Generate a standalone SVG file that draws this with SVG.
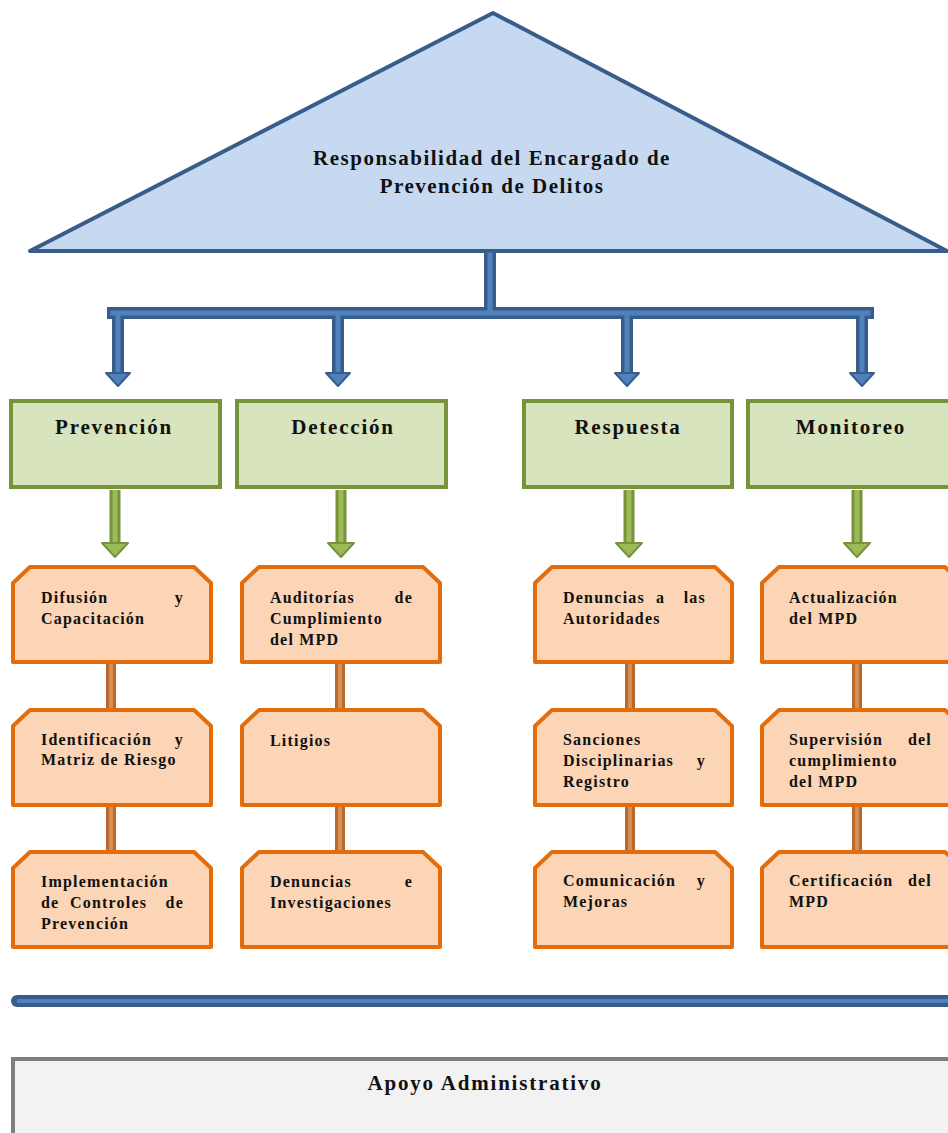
<svg xmlns="http://www.w3.org/2000/svg" width="948" height="1133" viewBox="0 0 948 1133">
<style>
.t{font-family:"Liberation Serif","Times New Roman",serif;font-weight:bold;fill:#111}
.title{font-size:21px;letter-spacing:1.5px}
.hdr{font-size:21px;letter-spacing:1.8px}
.it{font-size:16px;letter-spacing:1.2px}
.e{text-anchor:end}
.grn{fill:#d7e4bd;stroke:#77933c;stroke-width:4}
.org{fill:#fbd5b5;stroke:#e46c0a;stroke-width:4;stroke-linejoin:round}
.bo{stroke:#385d8a;stroke-width:12;fill:none;stroke-linecap:square}
.bi{stroke:#4f81bd;stroke-width:5;fill:none;stroke-linecap:square}
.bh{fill:#4f81bd;stroke:#385d8a;stroke-width:2;stroke-linejoin:round}
.go{stroke:#77933c;stroke-width:11;fill:none}
.gi{stroke:#9bbb59;stroke-width:5;fill:none}
.gh{fill:#9bbb59;stroke:#77933c;stroke-width:2;stroke-linejoin:round}
.ro{stroke:#b8692e;stroke-width:10;fill:none}
.ri{stroke:#d88f55;stroke-width:4;fill:none}
</style>
<rect width="948" height="1133" fill="#fff"/>
<g id="top">
<polygon points="493,13 30,251 947,251" fill="#c6d9f1" stroke="#385d8a" stroke-width="4" stroke-linejoin="round"/>
<text class="t title" x="492" y="165" text-anchor="middle">Responsabilidad del Encargado de</text>
<text class="t title" x="492" y="193" text-anchor="middle">Prevención de Delitos</text>
</g>
<g id="connectors">
<path class="bo" d="M490,255 V313 M113,313 H868 M118,313 V372 M338,313 V372 M627,313 V372 M862,313 V372"/>
<path class="bi" d="M490,255 V313 M113,313 H868 M118,313 V372 M338,313 V372 M627,313 V372 M862,313 V372"/>
<polygon class="bh" points="106,373 130,373 118,386"/>
<polygon class="bh" points="326,373 350,373 338,386"/>
<polygon class="bh" points="615,373 639,373 627,386"/>
<polygon class="bh" points="850,373 874,373 862,386"/>
<path class="go" d="M115,490 V544 M341,490 V544 M629,490 V544 M857,490 V544"/>
<path class="gi" d="M115,490 V544 M341,490 V544 M629,490 V544 M857,490 V544"/>
<polygon class="gh" points="102,543 128,543 115,557"/>
<polygon class="gh" points="328,543 354,543 341,557"/>
<polygon class="gh" points="616,543 642,543 629,557"/>
<polygon class="gh" points="844,543 870,543 857,557"/>
<path class="ro" d="M111,664 V709 M111,807 V851 M340,664 V709 M340,807 V851 M630,664 V709 M630,807 V851 M857,664 V709 M857,807 V851"/>
<path class="ri" d="M111,664 V709 M111,807 V851 M340,664 V709 M340,807 V851 M630,664 V709 M630,807 V851 M857,664 V709 M857,807 V851"/>
<line x1="17" y1="1001" x2="960" y2="1001" stroke="#385d8a" stroke-width="12" stroke-linecap="round"/>
<line x1="17" y1="1001" x2="960" y2="1001" stroke="#4f81bd" stroke-width="4"/>
</g>
<g id="prevencion"><rect class="grn" x="11" y="401" width="209" height="86"/><text class="t hdr" x="114" y="434" text-anchor="middle">Prevención</text></g>
<g id="deteccion"><rect class="grn" x="237" y="401" width="209" height="86"/><text class="t hdr" x="343" y="434" text-anchor="middle">Detección</text></g>
<g id="respuesta"><rect class="grn" x="524" y="401" width="208" height="86"/><text class="t hdr" x="628" y="434" text-anchor="middle">Respuesta</text></g>
<g id="monitoreo"><rect class="grn" x="748" y="401" width="214" height="86"/><text class="t hdr" x="851" y="434" text-anchor="middle">Monitoreo</text></g>

<g id="p1"><path class="org" d="M13,583 L30,567 H194 L211,583 V662 H13 Z"/>
<text class="t it" x="41" y="603">Difusión</text><text class="t it e" x="184" y="603">y</text><text class="t it" x="41" y="624">Capacitación</text></g>
<g id="p2"><path class="org" d="M13,726 L30,710 H194 L211,726 V805 H13 Z"/>
<text class="t it" x="41" y="745">Identificación</text><text class="t it e" x="184" y="745">y</text><text class="t it" x="41" y="765">Matriz de Riesgo</text></g>
<g id="p3"><path class="org" d="M13,868 L30,852 H194 L211,868 V947 H13 Z"/>
<text class="t it" x="41" y="887">Implementación</text><text class="t it" x="41" y="908">de</text><text class="t it" x="70" y="908">Controles</text><text class="t it e" x="184" y="908">de</text><text class="t it" x="41" y="929">Prevención</text></g>

<g id="d1"><path class="org" d="M242,583 L259,567 H423 L440,583 V662 H242 Z"/>
<text class="t it" x="270" y="603">Auditorías</text><text class="t it e" x="413" y="603">de</text><text class="t it" x="270" y="624">Cumplimiento</text><text class="t it" x="270" y="645">del MPD</text></g>
<g id="d2"><path class="org" d="M242,726 L259,710 H423 L440,726 V805 H242 Z"/>
<text class="t it" x="270" y="746">Litigios</text></g>
<g id="d3"><path class="org" d="M242,868 L259,852 H423 L440,868 V947 H242 Z"/>
<text class="t it" x="270" y="887">Denuncias</text><text class="t it e" x="413" y="887">e</text><text class="t it" x="270" y="908">Investigaciones</text></g>

<g id="r1"><path class="org" d="M535,583 L552,567 H715 L732,583 V662 H535 Z"/>
<text class="t it" x="563" y="603">Denuncias</text><text class="t it" x="656" y="603">a</text><text class="t it e" x="706" y="603">las</text><text class="t it" x="563" y="624">Autoridades</text></g>
<g id="r2"><path class="org" d="M535,726 L552,710 H715 L732,726 V805 H535 Z"/>
<text class="t it" x="563" y="745">Sanciones</text><text class="t it" x="563" y="766">Disciplinarias</text><text class="t it e" x="706" y="766">y</text><text class="t it" x="563" y="787">Registro</text></g>
<g id="r3"><path class="org" d="M535,868 L552,852 H715 L732,868 V947 H535 Z"/>
<text class="t it" x="563" y="886">Comunicación</text><text class="t it e" x="706" y="886">y</text><text class="t it" x="563" y="907">Mejoras</text></g>

<g id="m1"><path class="org" d="M762,583 L779,567 H945 L962,583 V662 H762 Z"/>
<text class="t it" x="789" y="603">Actualización</text><text class="t it" x="789" y="624">del MPD</text></g>
<g id="m2"><path class="org" d="M762,726 L779,710 H945 L962,726 V805 H762 Z"/>
<text class="t it" x="789" y="745">Supervisión</text><text class="t it e" x="932" y="745">del</text><text class="t it" x="789" y="766">cumplimiento</text><text class="t it" x="789" y="787">del MPD</text></g>
<g id="m3"><path class="org" d="M762,868 L779,852 H945 L962,868 V947 H762 Z"/>
<text class="t it" x="789" y="886">Certificación</text><text class="t it e" x="932" y="886">del</text><text class="t it" x="789" y="907">MPD</text></g>

<g id="apoyo"><rect x="13" y="1059" width="950" height="90" fill="#f2f2f2" stroke="#7f7f7f" stroke-width="4"/>
<text class="t hdr" x="485" y="1090" text-anchor="middle">Apoyo Administrativo</text></g>
</svg>
